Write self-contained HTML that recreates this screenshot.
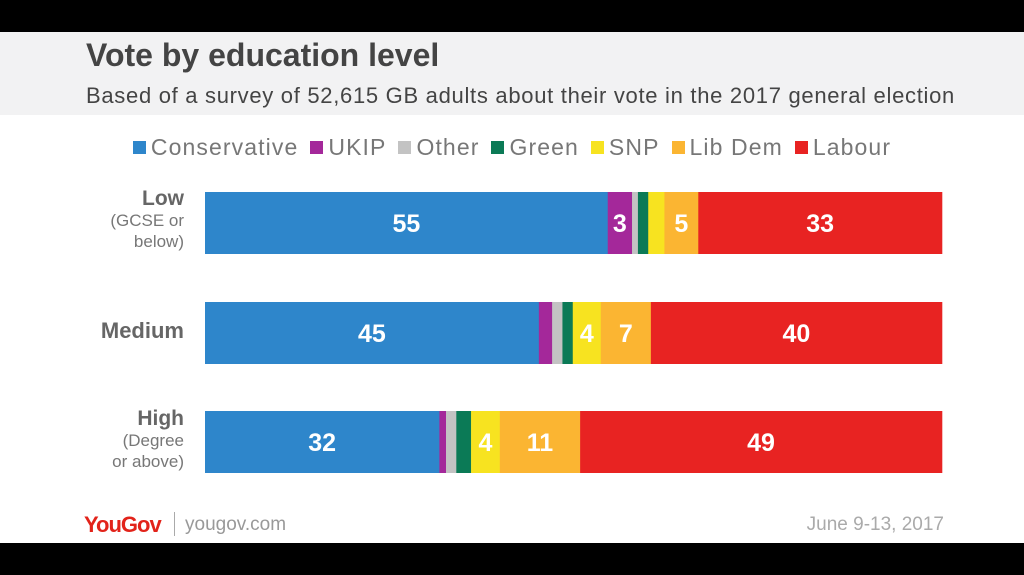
<!DOCTYPE html>
<html><head><meta charset="utf-8">
<style>
body{margin:0;width:1024px;height:575px;overflow:hidden;background:#fff;font-family:"Liberation Sans",sans-serif;position:relative}
.blk{position:absolute;left:0;width:1024px;background:#000}
#hdr{position:absolute;left:0;top:32px;width:1024px;height:83px;background:#f2f2f3}
#title{position:absolute;left:86px;top:37px;font-size:32px;font-weight:bold;color:#444;letter-spacing:0px}
#sub{position:absolute;left:86px;top:83px;font-size:22px;color:#444;letter-spacing:0.7px}
#legend{position:absolute;left:0;width:1024px;top:134px;text-align:center;font-size:23px;color:#777;white-space:nowrap;letter-spacing:1.1px}
.li{display:inline-block;margin:0 6px}
.sw{display:inline-block;width:13px;height:13px;margin-right:5px;vertical-align:1px}
.rl{position:absolute;width:120px;left:64px;text-align:right;color:#777;font-size:17px;line-height:21px}
.rl b{font-size:21px;color:#666}
</style></head><body>
<div class="blk" style="top:0;height:32px"></div>
<div class="blk" style="top:543px;height:32px"></div>
<div id="hdr"></div>
<div id="title">Vote by education level</div>
<div id="sub">Based of a survey of 52,615 GB adults about their vote in the 2017 general election</div>
<div id="legend"></div>
<div class="rl" style="top:188px"><b>Low</b><br>(GCSE or<br>below)</div>
<div class="rl" style="top:320px"><b style="font-size:22px">Medium</b></div>
<div class="rl" style="top:408px"><b>High</b><br>(Degree<br>or above)</div>
<svg id="chart" width="1024" height="575" style="position:absolute;left:0;top:0"></svg>
<div style="position:absolute;left:84px;top:512px;font-size:22px;font-weight:bold;color:#e2231a;letter-spacing:-1px">YouGov</div>
<div style="position:absolute;left:174px;top:512px;width:1px;height:24px;background:#aaa"></div>
<div style="position:absolute;left:185px;top:514px;font-size:19px;color:#999">yougov.com</div>
<div style="position:absolute;right:80px;top:514px;font-size:19px;color:#aaa">June 9-13, 2017</div>
<script>
const parties=["Conservative","UKIP","Other","Green","SNP","Lib Dem","Labour"];
const colors=["#2e86cb","#a4289a","#c3c3c3","#0b7a56","#f7e320","#fbb532","#e82322"];
const categories=["Low","Medium","High"];
const low=[54.7,3.3,0.8,1.4,2.2,4.6,33.1];
const medium=[45.3,1.8,1.4,1.4,3.8,6.8,39.5];
const high=[31.8,0.9,1.4,2.0,3.9,10.9,49.1];
const series=[low,medium,high];
const NS="http://www.w3.org/2000/svg";
const svg=document.getElementById('chart');
const x0=205,x1=942,barH=62,rowTops=[192,302,411];
const lg=document.getElementById('legend');
parties.forEach((p,i)=>{
 const s=document.createElement('span');s.className='li';
 
 
 s.innerHTML='<span class="sw" style="background:'+colors[i]+'"></span>'+p;
 lg.appendChild(s);
});
series.forEach((vals,r)=>{
 const tot=vals.reduce((a,b)=>a+b,0);
 const sc=v=>v/tot*(x1-x0);
 let x=x0;
 vals.forEach((v,i)=>{
  const w=sc(v);
  const rc=document.createElementNS(NS,'rect');
  rc.setAttribute('x',x);rc.setAttribute('y',rowTops[r]);rc.setAttribute('width',w+0.3);rc.setAttribute('height',barH);rc.setAttribute('fill',colors[i]);
  
  
  svg.appendChild(rc);
  if(v>=3){
   const t=document.createElementNS(NS,'text');
   t.setAttribute('x',x+w/2);t.setAttribute('y',rowTops[r]+barH/2+9);t.setAttribute('text-anchor','middle');
   t.setAttribute('fill','#fff');t.setAttribute('font-size','25');t.setAttribute('font-weight','bold');t.setAttribute('font-family','Liberation Sans, sans-serif');
   t.textContent=Math.round(v/tot*100);
   
   
   svg.appendChild(t);
  }
  x+=w;
 });
});
</script>
</body></html>
